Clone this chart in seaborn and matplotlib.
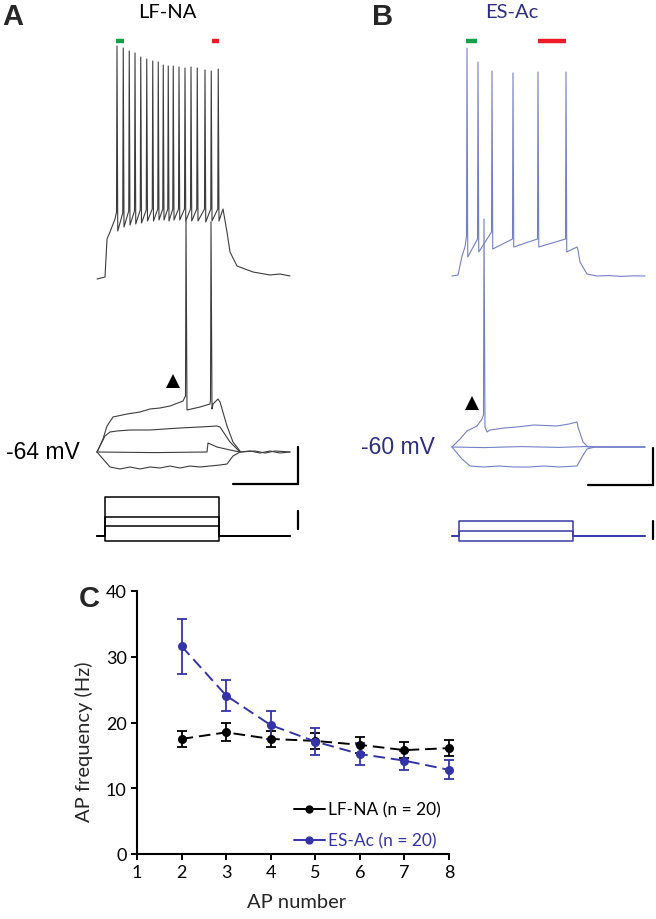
import matplotlib
matplotlib.use("Agg")
import matplotlib.pyplot as plt
from matplotlib.lines import Line2D
import pandas as pd
import seaborn as sns

# ---------------------------------------------------------
# Panel A: LF-NA (time in ms from step onset, voltage in mV)
# ---------------------------------------------------------
A_REST = -64
A_TOP_OFFSET = 86.5      # top (spike train) trace is shifted up for display

A_ONSET_T = [-32, 0, 8, 20, 40]
A_ONSET_V = [-64, -63, -44, -40.5, -34]
A_SPIKE_T = [48, 73, 97, 120, 143, 167, 191, 213, 233, 253, 273, 296, 320, 344, 369, 400, 425, 453]
A_SPIKE_PEAK = [52.5, 51.5, 50, 49, 47, 46, 45, 44.5, 43, 42.5, 42.5, 42, 41.5, 42, 41.5, 40.5, 40, 41]
A_SPIKE_THR = [-30.5, -31, -30, -30, -29.5, -29.5, -29, -29, -29, -29, -29, -29, -29, -29, -29, -29, -29, -29]
A_SPIKE_AHP = [-40, -38, -37, -36.5, -36, -35, -35, -34.5, -34.5, -35, -34.5, -34.5, -35, -35, -35, -35.5, -35, -35]
A_OFFSET_T = [472, 488, 500, 528, 592, 660, 700, 740]
A_OFFSET_V = [-29, -40.5, -50.5, -57.5, -60.5, -62, -61.5, -62.5]

A_HYP_T = [-32, -8, 20, 60, 100, 140, 180, 220, 260, 300, 340, 380, 420, 460, 488, 512, 540, 580, 620, 660, 700, 740]
A_HYP_V = [-64, -67.5, -71.5, -72.5, -71.5, -72.5, -71.5, -72, -71, -72, -71, -71.5, -71, -70.5, -70, -66, -64, -63.5, -64.5, -63.5, -64.5, -64]
A_ZERO_T = [-32, 200, 408, 412, 448, 500, 540, 600, 640, 680, 740]
A_ZERO_V = [-64, -64.3, -64, -59.5, -61.5, -63, -64, -63.5, -64.5, -63.5, -64]
A_SUB_T = [-32, 0, 20, 48, 100, 180, 240, 300, 380, 448, 460, 500, 528, 540]
A_SUB_V = [-64, -56, -54, -53.5, -53, -53, -52.5, -52, -51.5, -51, -51.5, -59, -62.5, -64]
A_THR_T = [-32, -8, 8, 32, 88, 140, 180, 220, 260, 312, 322, 324, 328, 380, 420, 422, 424, 428,
           432, 452, 460, 488, 512, 540]
A_THR_V = [-64, -57.5, -51, -46.5, -45, -44, -42.5, -42, -41, -38.5, -36, 51.5, -43, -41.5, -40, -38, 51, -42.5,
           -40, -37.5, -39, -51, -59, -63.5]
A_STEPS_PA = [-27, 55, 105, 215]
A_MARK_GREEN = [44, 76]
A_MARK_RED = [428, 456]
A_ARROW = (272, -28.5)

# ---------------------------------------------------------
# Panel B: ES-Ac
# ---------------------------------------------------------
B_REST = -60
B_TOP_OFFSET = 85.5

B_ONSET_T = [-28, -4, 12, 24]
B_ONSET_V = [-60, -59.5, -50, -45.5]
B_SPIKE_T = [32, 76, 132, 216, 316, 428]
B_SPIKE_PEAK = [54, 47, 42.5, 41.5, 42, 42]
B_SPIKE_THR = [-40, -41.5, -38, -41.5, -41.5, -41.5]
B_SPIKE_AHP = [-50.5, -48, -46.5, -45.5, -45.5, -48]
B_OFFSET_T = [472, 476, 484, 512, 552, 600, 650, 700, 744]
B_OFFSET_V = [-45.5, -47, -53, -59, -60, -59.8, -60.2, -59.9, -60]

B_HYP_T = [-28, 12, 44, 100, 160, 220, 284, 340, 400, 472, 492, 512, 544, 744]
B_HYP_V = [-60, -66, -69.5, -70, -69.5, -70, -70, -69.5, -70, -69.5, -65, -61, -60, -60]
B_ZERO_T = [-28, 100, 250, 400, 500, 600, 744]
B_ZERO_V = [-60, -60.3, -59.8, -60.2, -59.8, -60, -60]
B_THR_T = [-28, 4, 32, 72, 92, 98, 100, 104, 112, 124, 180, 232, 300, 392, 440, 472, 476, 496, 516, 744]
B_THR_V = [-60, -56, -52, -49.5, -46, -44, 54, -50, -52.5, -51.5, -50.5, -50, -49, -49.5, -48.5, -47.5, -50,
           -57.5, -60, -60]
B_STEPS_PA = [-27, 27, 82]
B_MARK_GREEN = [28, 72]
B_MARK_RED = [316, 428]
B_ARROW = (52, -38)

STEP_DUR = 456
SCALE_MS = 260
SCALE_MV = 18.5
SCALE_PA = 100

# ---------------------------------------------------------
# Panel C: AP frequency vs AP number (mean +/- SEM)
# ---------------------------------------------------------
AP_NUMBER = [2, 3, 4, 5, 6, 7, 8]
LFNA_MEAN = [17.5, 18.5, 17.5, 17.2, 16.6, 15.8, 16.1]
LFNA_SEM = [1.2, 1.35, 1.2, 1.2, 1.25, 1.25, 1.25]
ESAC_MEAN = [31.6, 24.1, 19.6, 17.1, 15.2, 14.2, 12.8]
ESAC_SEM = [4.2, 2.4, 2.1, 2.0, 1.65, 1.45, 1.45]
GROUPS = ["LF-NA (n = 20)", "ES-Ac (n = 20)"]

# colours
A_TRACE = "#3c3c3c"
B_TRACE = "#7480c6"
B_CURRENT = "#3b3ba6"
B_TEXT = "#2e2e82"
C_BLUE = "#3434a8"
GREEN = "#17a04a"
RED = "#ec1c2a"

W, H = 656, 920
MS_PER_PX = 4.0
MV_PER_PX = 0.5
PA_PER_PX = 5.5

sns.set_theme(style="ticks")
plt.rcParams["font.family"] = ["Liberation Sans", "DejaVu Sans"]
LATO = ["Lato", "DejaVu Sans"]

fig = plt.figure(figsize=(W / 100, H / 100), dpi=100)


def px_axes(x0, y0, w, h):
    return fig.add_axes([x0 / W, 1 - (y0 + h) / H, w / W, h / H])


def spike_train(on_t, on_v, spk_t, spk_pk, spk_thr, spk_ahp, off_t, off_v, shift):
    t, v = list(on_t), list(on_v)
    for ts, pk, th, ah in zip(spk_t, spk_pk, spk_thr, spk_ahp):
        t += [ts - 2, ts, ts + 3]
        v += [th, pk, ah]
    t += off_t
    v += off_v
    return t, [x + shift for x in v]


def trace(ax, t, v, color, lw=0.8):
    sns.lineplot(x=t, y=v, sort=False, estimator=None, color=color, linewidth=lw, ax=ax)


def draw_panel(x0, w, onset_px, rest_px, rest, offset, top, subs, steps, green, red, arrow,
               vcolor, icolor, tcolor, label_right_px, scale_y, ibar_lo):
    axv = px_axes(x0, 0, w, 560)
    axv.set_xlim((x0 - onset_px) * MS_PER_PX, (x0 + w - onset_px) * MS_PER_PX)
    axv.set_ylim(rest - (560 - rest_px) * MV_PER_PX, rest + rest_px * MV_PER_PX)
    axv.set_axis_off()

    trace(axv, *spike_train(*top, offset), vcolor)
    for t, v in subs:
        trace(axv, t, v, vcolor)

    bar_v = rest + (rest_px - 42) * MV_PER_PX
    axv.plot(green, [bar_v, bar_v], color=GREEN, lw=3.2, solid_capstyle="butt")
    axv.plot(red, [bar_v, bar_v], color=RED, lw=3.2, solid_capstyle="butt")
    axv.plot([arrow[0]], [arrow[1]], marker="^", color="black", ms=10, mew=0)

    t_end = top[6][-1]
    sx = t_end + 30
    axv.plot([sx - SCALE_MS, sx, sx], [scale_y, scale_y, scale_y + SCALE_MV], color="black", lw=1.6,
             solid_joinstyle="miter")
    axv.text((label_right_px - onset_px) * MS_PER_PX, rest, f"{rest} mV",
             ha="right", va="center", fontsize=16.5, color=tcolor)

    # current steps
    axi = px_axes(x0, 490, w, 60)
    axi.set_xlim(axv.get_xlim())
    axi.set_ylim(-13 * PA_PER_PX, 47 * PA_PER_PX)
    axi.set_axis_off()
    t0 = top[0][0]
    for amp in steps:
        trace(axi, [t0, 0, 0, STEP_DUR, STEP_DUR, t_end], [0, 0, amp, amp, 0, 0], icolor, lw=1.1)
    axi.plot([sx, sx], [ibar_lo, ibar_lo + SCALE_PA], color="black", lw=1.6)


draw_panel(0, 330, 105, 453, A_REST, A_TOP_OFFSET,
           (A_ONSET_T, A_ONSET_V, A_SPIKE_T, A_SPIKE_PEAK, A_SPIKE_THR, A_SPIKE_AHP, A_OFFSET_T, A_OFFSET_V),
           [(A_HYP_T, A_HYP_V), (A_ZERO_T, A_ZERO_V), (A_SUB_T, A_SUB_V), (A_THR_T, A_THR_V)],
           A_STEPS_PA, A_MARK_GREEN, A_MARK_RED, A_ARROW, A_TRACE, "black", "black", 80, -80, 38)
draw_panel(330, 326, 459, 448, B_REST, B_TOP_OFFSET,
           (B_ONSET_T, B_ONSET_V, B_SPIKE_T, B_SPIKE_PEAK, B_SPIKE_THR, B_SPIKE_AHP, B_OFFSET_T, B_OFFSET_V),
           [(B_HYP_T, B_HYP_V), (B_ZERO_T, B_ZERO_V), (B_THR_T, B_THR_V)],
           B_STEPS_PA, B_MARK_GREEN, B_MARK_RED, B_ARROW, B_TRACE, B_CURRENT, B_TEXT, 435, -79, -16)

# panel letters and titles
fig.text(2 / W, 1 - 25 / H, "A", fontsize=21, fontweight="bold", va="baseline")
fig.text(372 / W, 1 - 25 / H, "B", fontsize=21, fontweight="bold", va="baseline")
fig.text(79 / W, 1 - 607 / H, "C", fontsize=21, fontweight="bold", va="baseline")
fig.text(167 / W, 1 - 18 / H, "LF-NA", fontsize=14.5, family=LATO,
         ha="center", va="baseline", color="black")
fig.text(512 / W, 1 - 18 / H, "ES-Ac", fontsize=14.5, family=LATO,
         ha="center", va="baseline", color=B_TEXT)

# ---------------------------------------------------------
# Panel C
# ---------------------------------------------------------
axc = px_axes(137, 592, 312, 263)
df = pd.DataFrame({
    "ap": AP_NUMBER * 2,
    "freq": LFNA_MEAN + ESAC_MEAN,
    "sem": LFNA_SEM + ESAC_SEM,
    "group": [GROUPS[0]] * 7 + [GROUPS[1]] * 7,
})
palette = {GROUPS[0]: "black", GROUPS[1]: C_BLUE}
for g in GROUPS:
    sub = df[df["group"] == g]
    axc.errorbar(sub["ap"], sub["freq"], yerr=sub["sem"], fmt="none", ecolor=palette[g],
                 elinewidth=1.3, capsize=3.8, capthick=1.3, clip_on=False, zorder=2)
    sns.lineplot(data=sub, x="ap", y="freq", color=palette[g], marker="o", markersize=6.5,
                 markeredgewidth=0, linewidth=1.4, linestyle=(0, (6, 3)), ax=axc,
                 clip_on=False, zorder=3, legend=False)

axc.set_xlim(1, 8)
axc.set_ylim(0, 40)
axc.set_xticks(range(1, 9))
axc.set_yticks([0, 10, 20, 30, 40])
sns.despine(ax=axc)
for s in ("left", "bottom"):
    axc.spines[s].set_linewidth(1.5)
    axc.spines[s].set_color("black")
axc.tick_params(axis="both", width=1.4, length=4.5, color="black", labelsize=13,
                labelcolor="black", direction="out")
axc.tick_params(axis="y", pad=3)
axc.tick_params(axis="x", pad=3)
for lab in axc.get_xticklabels() + axc.get_yticklabels():
    lab.set_family(LATO)
axc.set_xlabel("AP number", fontsize=14.5, family=LATO)
axc.set_ylabel("AP frequency (Hz)", fontsize=14.5, family=LATO)
axc.xaxis.set_label_coords(0.513, -0.15)
axc.yaxis.set_label_coords(-0.14, 0.43)

handles = [Line2D([0], [0], color=palette[g], marker="o", ms=6, mew=0, lw=1.4) for g in GROUPS]
leg = axc.legend(handles, GROUPS, loc="lower right", bbox_to_anchor=(0.975, 0.02), frameon=False,
                 handlelength=1.8, handletextpad=0.2, labelspacing=0.85, borderaxespad=0, borderpad=0,
                 prop={"family": LATO, "size": 12.5}, labelcolor=[palette[g] for g in GROUPS])

fig.savefig("out.png", dpi=100)
